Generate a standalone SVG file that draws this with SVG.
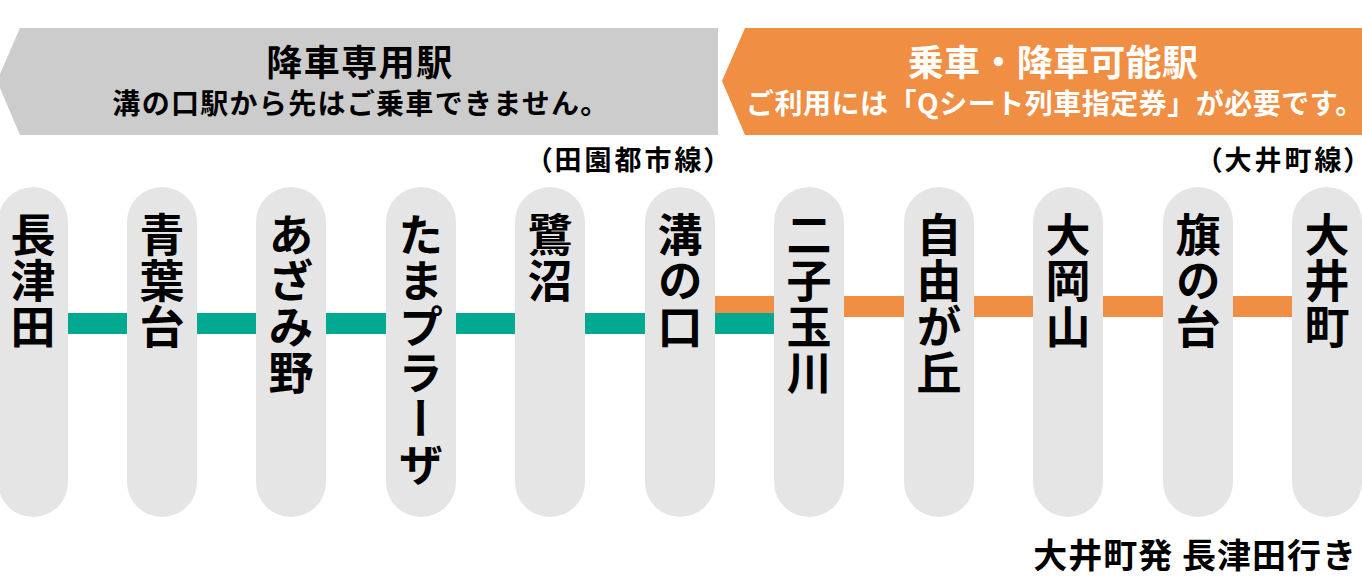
<svg xmlns="http://www.w3.org/2000/svg" width="1362" height="578" viewBox="0 0 1362 578">
<style>
text{font-family:"Noto Sans CJK JP","Noto Sans",sans-serif;font-weight:700}
.pill{fill:#E5E5E5}
.st{font-size:45px;fill:#000;writing-mode:vertical-rl;text-orientation:upright;letter-spacing:1px}
.h1{font-size:36px;text-anchor:middle}
.h2{font-size:28px;text-anchor:middle}
.note{font-size:27px;fill:#000;text-anchor:end;font-feature-settings:"palt"}
</style>
<g id="banner-left">
<polygon points="20,28 718,28 718,135 20,135 -3,81" fill="#CCCCCC"/>
<text class="h1" x="360" y="76" fill="#000" letter-spacing="1.5">降車専用駅</text>
<text class="h2" x="361" y="114" fill="#000" letter-spacing="1.3">溝の口駅から先はご乗車できません。</text>
</g>
<g id="banner-right">
<polygon points="745,28 1362,28 1362,135 745,135 722,81" fill="#F08E44"/>
<text class="h1" x="1053" y="76" fill="#fff" letter-spacing="0.3">乗車・降車可能駅</text>
<text class="h2" x="1055" y="114" fill="#fff" letter-spacing="0.5">ご利用には「Qシート列車指定券」が必要です。</text>
</g>
<g id="label-den">
<text class="note" x="721" y="170" letter-spacing="3">（田園都市線）</text>
</g>
<g id="label-oim">
<text class="note" x="1361" y="170" letter-spacing="3">（大井町線）</text>
</g>
<g id="connectors">
<rect x="700" y="296" width="620" height="21" fill="#F08E44"/>
<rect x="40" y="313" width="760" height="21" fill="#00A98F"/>
</g>
<g id="st-nagatsuta"><rect class="pill" x="-2" y="187" width="70" height="330" rx="35"/><text class="st" x="33" y="212">長津田</text></g>
<g id="st-aobadai"><rect class="pill" x="127" y="187" width="70" height="330" rx="35"/><text class="st" x="162" y="212">青葉台</text></g>
<g id="st-azamino"><rect class="pill" x="256" y="187" width="70" height="330" rx="35"/><text class="st" x="291" y="212">あざみ野</text></g>
<g id="st-tamaplaza"><rect class="pill" x="386" y="187" width="70" height="330" rx="35"/><text class="st" x="421" y="212">たまプラーザ</text></g>
<g id="st-saginuma"><rect class="pill" x="515" y="187" width="70" height="330" rx="35"/><text class="st" x="550" y="212">鷺沼</text></g>
<g id="st-mizonokuchi"><rect class="pill" x="645" y="187" width="70" height="330" rx="35"/><text class="st" x="680" y="212">溝の口</text></g>
<g id="st-futakotamagawa"><rect class="pill" x="774" y="187" width="70" height="330" rx="35"/><text class="st" x="809" y="212">二子玉川</text></g>
<g id="st-jiyugaoka"><rect class="pill" x="904" y="187" width="70" height="330" rx="35"/><text class="st" x="939" y="212">自由が丘</text></g>
<g id="st-ookayama"><rect class="pill" x="1033" y="187" width="70" height="330" rx="35"/><text class="st" x="1068" y="212">大岡山</text></g>
<g id="st-hatanodai"><rect class="pill" x="1163" y="187" width="70" height="330" rx="35"/><text class="st" x="1198" y="212">旗の台</text></g>
<g id="st-oimachi"><rect class="pill" x="1292" y="187" width="70" height="330" rx="35"/><text class="st" x="1327" y="212">大井町</text></g>
<g id="caption">
<text x="1357" y="568" font-size="34" fill="#000" text-anchor="end" letter-spacing="1">大井町発 長津田行き</text>
</g>
</svg>
